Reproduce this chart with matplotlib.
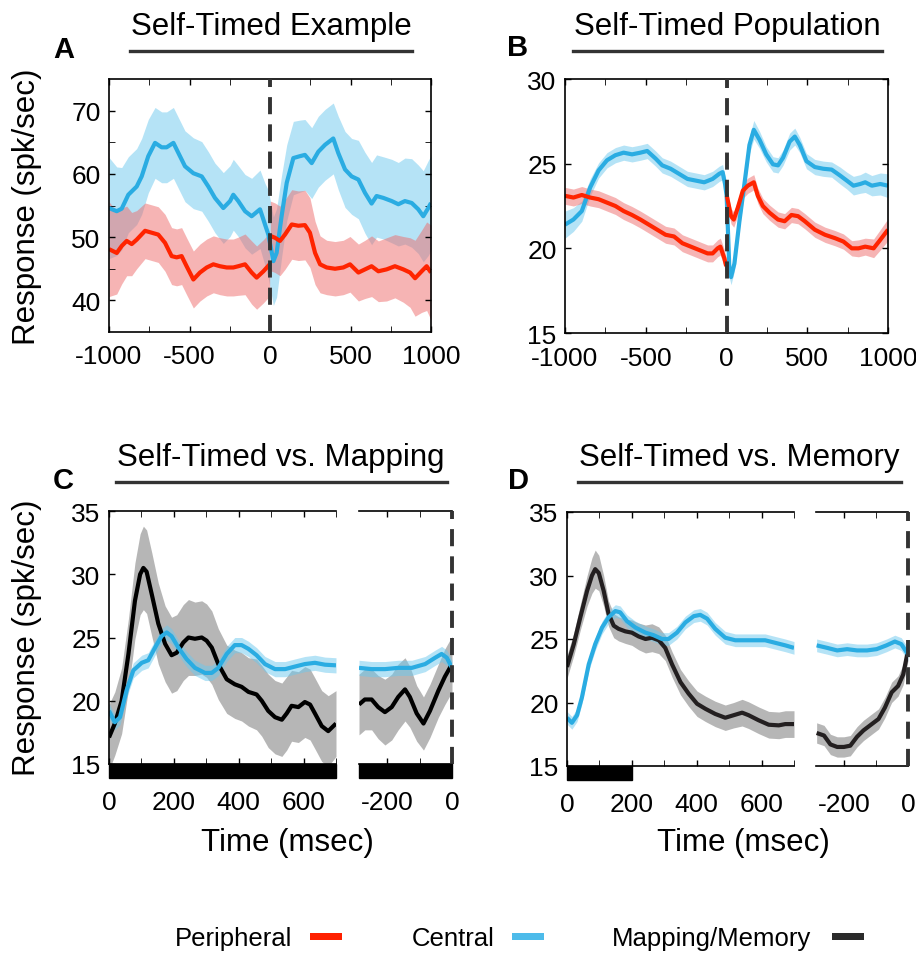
import numpy as np
import matplotlib
matplotlib.use("Agg")
import matplotlib.pyplot as plt
import matplotlib.transforms as mtransforms
from matplotlib.patches import Rectangle
from matplotlib.lines import Line2D

plt.rcParams['font.family'] = ['Liberation Sans', 'DejaVu Sans']
plt.rcParams['axes.unicode_minus'] = False

# ---- colours
RED, RED_FILL = "#FF2400", "#EE6A6A"
BLUE, BLUE_FILL = "#2AACE2", "#6CC8EE"
BLACK_C, BLACK_D, GRAY_FILL = "#000000", "#231F20", "#6E6E6E"

# ---- A: self-timed example (time in ms rel. to saccade)
a_t_central = [-1000, -952, -921, -880, -828, -797, -756, -714, -673, -642, -600, -569, -528, -476, -424, -383,
               -342, -290, -248, -228, -197, -155, -114, -62, -31, -10, 21, 41, 72, 104, 145, 186, 217, 259,
               300, 342, 393, 424, 466, 507, 549, 590, 631, 662, 704, 756, 797, 838, 880, 921, 952, 983, 1000]
a_central = [54.6, 54.1, 54.5, 56.7, 58.0, 59.6, 62.8, 64.9, 64.2, 64.2, 64.9, 63.3, 61.2, 60.1, 59.6, 58.0,
             56.2, 54.6, 55.7, 56.7, 55.7, 54.1, 53.3, 54.4, 52.0, 50.4, 46.2, 47.5, 53.3, 58.6, 62.5, 62.8,
             63.0, 61.7, 63.5, 64.6, 65.6, 63.3, 60.7, 59.6, 59.1, 57.0, 55.3, 56.5, 56.2, 55.7, 55.2, 55.7,
             55.4, 54.4, 53.3, 54.6, 55.4]
a_central_sem = [8, 7, 6.5, 6, 6, 6, 5.8, 5.6, 5.6, 5.6, 5.6, 5.6, 5.6, 5.6, 5.5, 5.5, 5.5, 5.6, 5.6, 5.6,
                 5.6, 5.8, 6, 6.2, 6.5, 7, 7, 7, 6.5, 6, 5.8, 5.7, 5.6, 5.6, 5.6, 5.6, 5.6, 5.8, 6, 6, 6.2,
                 6.4, 6.5, 6.5, 6.5, 6.6, 6.6, 6.8, 7, 7, 7.2, 7.5, 7.5]
a_t_periph = [-1000, -952, -921, -890, -859, -828, -776, -735, -694, -652, -611, -580, -549, -518, -476, -435,
              -393, -352, -311, -269, -228, -197, -155, -114, -83, -41, -2,
              2, 31, 62, 93, 135, 176, 217, 248, 280, 311, 352, 404, 455, 497, 549, 590, 631, 673, 724, 776,
              828, 870, 901, 942, 973, 1000]
a_periph = [48.1, 47.5, 48.6, 49.4, 48.9, 49.6, 51.0, 50.7, 50.4, 49.1, 47.0, 46.8, 47.0, 45.4, 43.3, 44.4,
            45.2, 45.7, 45.4, 45.2, 45.2, 45.4, 45.7, 44.4, 43.6, 44.6, 45.7,
            50.2, 49.9, 49.4, 50.4, 52.0, 51.8, 51.9, 50.7, 47.5, 45.7, 45.2, 45.0, 45.2, 45.7, 44.4, 44.9,
            45.4, 44.6, 44.9, 45.4, 44.9, 44.4, 43.5, 44.6, 45.4, 44.4]
a_periph_sem = [7.5, 6.5, 6, 5.5, 5, 4.6, 4.4, 4.4, 4.4, 4.5, 4.5, 4.5, 4.5, 4.5, 4.5, 4.5, 4.5, 4.5, 4.5,
                4.5, 4.5, 4.6, 4.8, 5, 5, 5, 5,
                5.5, 5.5, 5.5, 5.5, 5.5, 5.5, 5.5, 5.5, 5, 4.5, 4.3, 4.3, 4.3, 4.4, 4.5, 4.6, 4.8, 4.8, 5, 5,
                5.2, 5.5, 6, 6.5, 7, 7.5]

# ---- B: self-timed population
b_t_central = [-1000, -948, -896, -844, -792, -740, -688, -637, -585, -533, -491, -439, -398, -346, -294, -242,
               -190, -138, -86, -45, -24, -9, 1, 18, 28, 49, 80, 111, 142, 169, 205, 246, 288, 319, 350, 391,
               423, 454, 495, 547, 599, 651, 703, 745, 786, 828, 859, 900, 952, 1000]
b_central = [21.4, 21.7, 22.2, 23.6, 24.6, 25.2, 25.5, 25.65, 25.55, 25.65, 25.75, 25.3, 24.9, 24.7, 24.4,
             24.1, 24.0, 23.9, 24.1, 24.4, 24.5, 23.8, 23.1, 18.7, 18.3, 19.1, 21.6, 23.8, 26.1, 27.0, 26.4,
             25.55, 24.96, 24.9, 25.35, 26.3, 26.6, 26.1, 25.15, 24.8, 24.7, 24.65, 24.3, 24.0, 23.7, 23.8,
             23.9, 23.7, 23.8, 23.7]
b_central_sem = [0.8, 0.7, 0.6, 0.5, 0.45, 0.45, 0.45, 0.45, 0.45, 0.45, 0.45, 0.45, 0.45, 0.45, 0.45, 0.45,
                 0.45, 0.45, 0.45, 0.45, 0.45, 0.45, 0.45, 0.45, 0.45, 0.45, 0.45, 0.45, 0.5, 0.55, 0.5, 0.45,
                 0.45, 0.45, 0.45, 0.5, 0.5, 0.45, 0.45, 0.45, 0.45, 0.45, 0.5, 0.5, 0.55, 0.55, 0.6, 0.6,
                 0.65, 0.7]
b_t_periph = [-1000, -948, -896, -844, -792, -740, -688, -637, -585, -533, -481, -429, -377, -325, -273, -221,
              -169, -117, -86, -55, -38, -13, -2,
              2, 28, 45, 70, 101, 132, 169, 194, 225, 267, 319, 360, 402, 443, 485, 547, 610, 672, 724, 776,
              817, 859, 911, 952, 1000]
b_periph = [23.1, 23.0, 23.15, 23.0, 22.9, 22.7, 22.5, 22.2, 21.97, 21.7, 21.4, 21.1, 20.8, 20.7, 20.3, 20.1,
            19.9, 19.7, 19.7, 20.0, 20.1, 19.4, 18.95,
            23.1, 21.9, 21.7, 22.4, 23.4, 23.7, 23.9, 23.1, 22.5, 22.1, 21.7, 21.6, 21.97, 21.9, 21.6, 21.1,
            20.8, 20.6, 20.4, 20.0, 20.0, 20.1, 20.0, 20.5, 21.1]
b_periph_sem = [0.5] * 23 + [0.45] * 19 + [0.45, 0.5, 0.5, 0.55, 0.6, 0.65]

# ---- C: self-timed vs mapping (post-target window, pre-saccade window)
c_t_map = [0, 18, 39, 60, 80, 96, 106, 116, 132, 152, 173, 193, 209, 229, 245, 265, 286, 301, 317, 337, 363,
           388, 409, 430, 455, 471, 491, 512, 533, 548, 563, 584, 604, 620, 635, 656, 676, 700]
c_map = [17.1, 18.2, 20.0, 23.7, 27.9, 30.0, 30.5, 30.2, 28.4, 26.1, 24.5, 23.6, 23.8, 24.6, 25.0, 24.9, 25.0,
         24.75, 24.2, 22.9, 21.7, 21.3, 21.1, 20.7, 20.5, 20.0, 19.2, 18.7, 18.5, 19.0, 19.6, 19.5, 19.9,
         19.7, 19.0, 18.0, 17.6, 18.2]
c_map_sem = [2.6, 2.5, 2.6, 2.8, 3.0, 3.2, 3.3, 3.3, 3.3, 3.2, 3.0, 3.0, 3.0, 3.0, 3.0, 2.9, 2.9, 2.9, 2.9,
             2.8, 2.7, 2.7, 2.7, 2.7, 2.8, 2.8, 2.9, 2.9, 2.9, 2.9, 2.8, 2.8, 2.8, 2.8, 2.8, 2.8, 2.8, 2.6]
c_t_central = [0, 18, 34, 54, 75, 101, 121, 142, 162, 178, 193, 214, 239, 265, 296, 317, 337, 363, 388, 409,
               430, 455, 481, 512, 543, 573, 604, 635, 666, 700]
c_central = [19.2, 18.3, 18.7, 20.8, 22.4, 23.0, 23.2, 24.2, 25.1, 25.4, 25.1, 24.2, 23.3, 22.6, 22.2, 22.2,
             22.6, 23.7, 24.4, 24.4, 24.1, 23.6, 22.9, 22.5, 22.5, 22.7, 22.9, 23.0, 22.85, 22.8]
c_central_sem = [0.6] * 30
c_t_map_pre = [-287, -269, -248, -228, -207, -186, -166, -145, -130, -109, -88, -68, -42, -22, 0]
c_map_pre = [19.7, 20.1, 20.1, 19.5, 19.1, 19.5, 20.3, 20.9, 20.3, 19.0, 18.2, 19.2, 20.8, 21.9, 22.9]
c_map_pre_sem = [2.4, 2.4, 2.4, 2.5, 2.6, 2.6, 2.6, 2.5, 2.4, 2.2, 2.1, 2.1, 2.1, 2.2, 2.2]
c_t_central_pre = [-287, -248, -207, -166, -124, -83, -52, -32, -16, 0]
c_central_pre = [22.6, 22.5, 22.5, 22.6, 22.6, 22.9, 23.4, 23.7, 23.4, 22.6]
c_central_pre_sem = [0.6] * 10
c_target_bar = [(0, 700), (-287, 0)]

# ---- D: self-timed vs memory
d_t_mem = [0, 21, 41, 62, 77, 87, 98, 113, 128, 144, 159, 180, 200, 221, 242, 262, 283, 303, 324, 350, 375,
           401, 427, 457, 488, 514, 540, 560, 591, 622, 653, 673, 700]
d_mem = [22.8, 24.6, 26.7, 28.8, 30.0, 30.5, 30.2, 28.8, 27.0, 26.05, 25.8, 25.6, 25.5, 25.2, 25.0, 25.1, 24.9,
         24.3, 23.0, 21.6, 20.7, 19.9, 19.5, 19.1, 18.8, 19.0, 19.2, 19.0, 18.6, 18.25, 18.2, 18.3, 18.3]
d_mem_sem = [0.9, 0.9, 1.0, 1.2, 1.4, 1.5, 1.4, 1.2, 1.0, 0.95, 0.95, 0.95, 1.0, 1.05, 1.1, 1.1, 1.05, 1.0,
             1.0, 1.0, 1.0, 1.0, 1.0, 1.0, 1.0, 1.0, 1.05, 1.05, 1.05, 1.05, 1.05, 1.05, 1.05]
d_t_central = [0, 15, 31, 46, 67, 87, 108, 128, 149, 164, 185, 211, 242, 267, 293, 313, 339, 365, 391, 411,
               432, 457, 488, 519, 550, 581, 611, 642, 673, 700]
d_central = [18.8, 18.4, 19.0, 20.4, 23.0, 24.6, 25.9, 26.7, 27.2, 27.1, 26.4, 25.9, 25.5, 25.3, 25.0, 25.0,
             25.5, 26.3, 26.8, 26.9, 26.6, 25.8, 25.1, 24.9, 24.9, 24.9, 24.9, 24.7, 24.5, 24.3]
d_central_sem = [0.5] * 30
d_t_mem_pre = [-285, -262, -242, -221, -200, -180, -159, -139, -113, -92, -72, -51, -31, -15, 0]
d_mem_pre = [17.6, 17.4, 16.7, 16.5, 16.5, 16.6, 17.3, 17.8, 18.3, 18.7, 19.6, 20.8, 21.3, 22.2, 24.1]
d_mem_pre_sem = [0.8] * 15
d_t_central_pre = [-285, -252, -221, -190, -159, -128, -98, -67, -41, -21, 0]
d_central_pre = [24.5, 24.3, 24.1, 24.2, 24.1, 24.1, 24.2, 24.5, 24.8, 24.6, 23.8]
d_central_pre_sem = [0.5] * 11
d_target_bar = [(0, 200)]

legend_labels = ["Peripheral", "Central", "Mapping/Memory"]
legend_colors = ["#FF2000", "#4DBBEA", "#2B2B2B"]

W, H = 916, 954
fig = plt.figure(figsize=(W / 100, H / 100), dpi=100)


def box(x0, y0, x1, y1):
    return [x0 / W, 1 - y1 / H, (x1 - x0) / W, (y1 - y0) / H]


def trace(ax, t, m, e, color, fill, alpha, lw=3.0):
    t = np.asarray(t, float)
    m = np.asarray(m, float)
    e = np.asarray(e, float)
    ax.fill_between(t, m - e, m + e, color=fill, alpha=alpha, lw=0)
    ax.plot(t, m, color=color, lw=lw, solid_capstyle="butt", solid_joinstyle="round")


def style(ax):
    for s in ax.spines.values():
        s.set_linewidth(1.2)
    ax.tick_params(direction="in", length=4, width=1, labelsize=19, pad=6)


def dashed_zero(ax):
    ax.axvline(0, color="#333333", lw=2.8, dashes=(4.4, 2.6), clip_on=False, zorder=5)


# ---- A
ax = fig.add_axes(box(109, 80, 431, 333))
trace(ax, a_t_central, a_central, a_central_sem, BLUE, BLUE_FILL, 0.5)
trace(ax, a_t_periph[:27], a_periph[:27], a_periph_sem[:27], RED, RED_FILL, 0.5)
trace(ax, a_t_periph[27:], a_periph[27:], a_periph_sem[27:], RED, RED_FILL, 0.5)
dashed_zero(ax)
ax.set_xlim(-1000, 1000)
ax.set_ylim(35, 75)
ax.set_xticks([-1000, -500, 0, 500, 1000])
ax.set_xticks(np.arange(-750, 1000, 500), minor=True)
ax.set_yticks([40, 50, 60, 70])
ax.set_yticks([45, 55, 65], minor=True)
style(ax)
ax.tick_params(which="both", top=True, right=True, direction="in", length=4)
ax.tick_params(axis="x", pad=9)

# ---- B
ax = fig.add_axes(box(565, 80, 888, 334))
trace(ax, b_t_central, b_central, b_central_sem, BLUE, BLUE_FILL, 0.5)
trace(ax, b_t_periph[:23], b_periph[:23], b_periph_sem[:23], RED, RED_FILL, 0.5)
trace(ax, b_t_periph[23:], b_periph[23:], b_periph_sem[23:], RED, RED_FILL, 0.5)
dashed_zero(ax)
ax.set_xlim(-1000, 1000)
ax.set_ylim(15, 30)
ax.set_xticks([-1000, -500, 0, 500, 1000])
ax.set_xticks(np.arange(-750, 1000, 500), minor=True)
ax.set_yticks([15, 20, 25, 30])
style(ax)
ax.tick_params(which="both", top=True, right=True, direction="in", length=4)
ax.tick_params(axis="x", pad=9)


def split_panel(rects, post, pre, bars):
    ax1 = fig.add_axes(box(*rects[0]))
    ax2 = fig.add_axes(box(*rects[1]))
    for (t, m, e, c, f, a) in post:
        trace(ax1, t, m, e, c, f, a)
    for (t, m, e, c, f, a) in pre:
        trace(ax2, t, m, e, c, f, a)
    ax1.set_xlim(0, 700)
    ax2.set_xlim(-287, 0)
    for a in (ax1, ax2):
        a.set_ylim(15, 35)
        style(a)
        a.tick_params(top=True, direction="in", length=4)
        a.tick_params(axis="x", pad=19)
    ax1.set_xticks([0, 200, 400, 600])
    ax1.set_xticks([100, 300, 500, 700], minor=True)
    ax1.tick_params(which="minor", top=True, direction="in", length=4)
    ax1.set_yticks([15, 20, 25, 30, 35])
    ax1.spines["right"].set_visible(False)
    ax2.set_xticks([-200, 0])
    ax2.set_xticks([-100], minor=True)
    ax2.tick_params(which="minor", top=True, direction="in", length=4)
    ax2.set_yticks([])
    ax2.spines["left"].set_visible(False)
    ax2.spines["right"].set_visible(False)
    dashed_zero(ax2)
    for x0, x1 in bars:
        for a in (ax1, ax2):
            lo, hi = a.get_xlim()
            s0, s1 = max(x0, lo), min(x1, hi)
            if s1 > s0:
                tr = mtransforms.blended_transform_factory(a.transData, a.transAxes)
                a.add_patch(Rectangle((s0, -0.055), s1 - s0, 0.055, transform=tr,
                                      color="black", clip_on=False, zorder=6))
    return ax1, ax2


split_panel([(109, 512, 336, 765), (359, 512, 452, 765)],
            [(c_t_map, c_map, c_map_sem, BLACK_C, GRAY_FILL, 0.5),
             (c_t_central, c_central, c_central_sem, BLUE, BLUE_FILL, 0.5)],
            [(c_t_map_pre, c_map_pre, c_map_pre_sem, BLACK_C, GRAY_FILL, 0.5),
             (c_t_central_pre, c_central_pre, c_central_pre_sem, BLUE, BLUE_FILL, 0.5)],
            c_target_bar)

split_panel([(567, 513, 794, 767), (816, 513, 908, 767)],
            [(d_t_mem, d_mem, d_mem_sem, BLACK_D, GRAY_FILL, 0.5),
             (d_t_central, d_central, d_central_sem, BLUE, BLUE_FILL, 0.5)],
            [(d_t_mem_pre, d_mem_pre, d_mem_pre_sem, BLACK_D, GRAY_FILL, 0.5),
             (d_t_central_pre, d_central_pre, d_central_pre_sem, BLUE, BLUE_FILL, 0.5)],
            d_target_bar)

# ---- titles, underlines, panel letters
titles = [("Self-Timed Example", 271, 27, 130, 412, 52, "A", 64, 50),
          ("Self-Timed Population", 727, 27, 573, 882, 52, "B", 518, 48),
          ("Self-Timed vs. Mapping", 281, 458, 116, 447, 483, "C", 63, 481),
          ("Self-Timed vs. Memory", 739, 458, 578, 901, 483, "D", 518, 481)]
for text, tx, ty, l0, l1, ly, letter, lx, lyy in titles:
    fig.text(tx / W, 1 - ty / H, text, fontsize=22.5, ha="center", va="center")
    fig.add_artist(Line2D([l0 / W, l1 / W], [1 - ly / H, 1 - ly / H], color="#333333", lw=2.4))
    fig.text(lx / W, 1 - lyy / H, letter, fontsize=21, fontweight="bold", ha="center", va="center")

fig.text(27 / W, 1 - 207 / H, "Response (spk/sec)", fontsize=22.5, rotation=90, ha="center", va="center")
fig.text(27 / W, 1 - 638 / H, "Response (spk/sec)", fontsize=22.5, rotation=90, ha="center", va="center")
fig.text(287 / W, 1 - 843 / H, "Time (msec)", fontsize=22.5, ha="center", va="center")
fig.text(743 / W, 1 - 843 / H, "Time (msec)", fontsize=22.5, ha="center", va="center")

# ---- legend
leg_pos = [(175, 310), (412, 512), (612, 832)]
for lab, col, (tx, px) in zip(legend_labels, legend_colors, leg_pos):
    fig.text(tx / W, 1 - 939 / H, lab, fontsize=18.5, ha="left", va="center")
    fig.add_artist(Rectangle((px / W, 1 - 941 / H), 32 / W, 7 / H, transform=fig.transFigure,
                             color=col, lw=0))

fig.savefig("out.png", dpi=100)
